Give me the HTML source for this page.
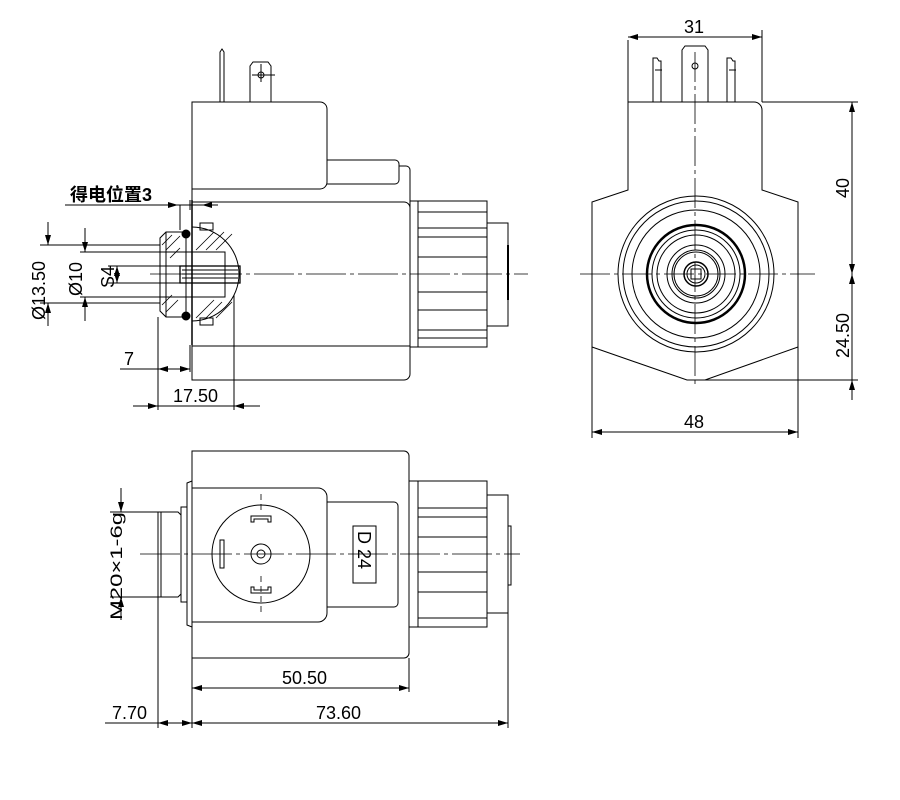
<!DOCTYPE html>
<html><head><meta charset="utf-8"><style>html,body{margin:0;padding:0;background:#fff}svg{display:block}</style></head><body>
<svg width="900" height="800" viewBox="0 0 900 800" xmlns="http://www.w3.org/2000/svg" font-family="Liberation Sans, Noto Sans CJK SC, sans-serif" font-size="18" fill="none" stroke="#000" stroke-width="1">
<defs>
<marker id="a" viewBox="0 0 10 6" refX="10" refY="3" markerWidth="10" markerHeight="6" orient="auto-start-reverse" markerUnits="userSpaceOnUse"><path d="M0,0L10,3L0,6z" fill="#000" stroke="none"/></marker>
</defs>
<!-- ============ TOP LEFT VIEW ============ -->
<path d="M220,102V52l2,-3 2,3V102"/>
<path d="M250,102V66l3,-4h15l3,4V102"/>
<circle cx="261" cy="75" r="3"/><path d="M261,64V82M252,75H275"/>
<path d="M192,202V102H320a7,7 0 0 1 7,7V182a7,7 0 0 1 -7,7H192"/>
<path d="M327,160H395a4,4 0 0 1 4,4V180a4,4 0 0 1 -4,4H327"/>
<path d="M399,166H406a4,4 0 0 1 4,4V202"/>
<path d="M192,202H404a6,6 0 0 1 6,6V374a6,6 0 0 1 -6,6H192Z"/>
<path d="M192,346H410"/>
<rect x="410" y="201" width="77" height="146"/>
<path d="M418,201V347M418,212H487M418,228H487M418,237H487M418,257H487M418,292H487M418,310H487M418,330H487M418,338H487"/>
<rect x="487" y="223" width="21" height="103"/>
<path d="M508,245V300" stroke-width="2"/>
<path d="M192,200V345" stroke-width="1.5"/>
<path d="M192,227A47,47 0 0 1 192,321" />
<path d="M166,232H186V317H166L160,311V238Z"/>
<path d="M166,232V317M180,252H225V297H180"/>
<rect x="180" y="266" width="60" height="17" stroke-width="1.3"/>
<path d="M182,270H238M182,274H238M182,278H238"/>
<circle cx="186" cy="234" r="4" fill="#000"/><circle cx="186" cy="316" r="4" fill="#000"/>
<rect x="200" y="223" width="13" height="7"/><rect x="200" y="318" width="13" height="7"/>
<path d="M162,245L172,235M166,250L180,236M170,258L180,248M162,305L172,295M166,312L178,300M196,250L214,232M206,250L224,232M216,250L232,234M196,318L214,300M206,318L222,302M216,318L232,302" stroke-width="0.8"/>
<path d="M150,274H528" stroke-dasharray="40,4,4,4" stroke-width="0.8"/>
<path d="M65,205H218"/><path d="M168,205H178" marker-end="url(#a)"/><path d="M214,205H202" marker-end="url(#a)"/><path d="M180,205V230M190,200V210"/>
<text x="70" y="201" fill="#000" stroke="none" font-size="18" font-weight="bold">得电位置3</text>
<path d="M40,245H160M40,303H160M80,252H180M80,297H180M108,266H180M108,283H180"/>
<path d="M48,222V245" marker-end="url(#a)"/><path d="M48,326V303" marker-end="url(#a)"/>
<path d="M85,228V252" marker-end="url(#a)"/><path d="M85,321V297" marker-end="url(#a)"/>
<path d="M117,266V283" marker-start="url(#a)" marker-end="url(#a)"/>
<text transform="translate(45,320) rotate(-90)" fill="#000" stroke="none">Ø13.50</text>
<text transform="translate(82,296) rotate(-90)" fill="#000" stroke="none">Ø10</text>
<text transform="translate(114,288) rotate(-90)" fill="#000" stroke="none">S4</text>
<path d="M158,317V410M234,295V410M190,345V372"/>
<path d="M120,369H190"/><path d="M168,369H158" marker-end="url(#a)"/><path d="M180,369H190" marker-end="url(#a)"/>
<text x="124" y="365" fill="#000" stroke="none">7</text>
<path d="M133,406H260"/><path d="M140,406H158" marker-end="url(#a)"/><path d="M252,406H234" marker-end="url(#a)"/>
<text x="173" y="402" fill="#000" stroke="none">17.50</text>
<!-- ============ TOP RIGHT VIEW ============ -->
<path d="M653,102V58h4l2,3h2V102M655,70h7"/>
<path d="M727,102V58h4l2,3h2V102M729,70h7"/>
<path d="M682,102V50l3,-4h20l3,4V102"/><circle cx="695" cy="66" r="3"/>
<path d="M628,102H754a8,8 0 0 1 8,8V190L798,202V347L705,380H687L592,347V202L628,190Z"/>
<path d="M628,40V102M762,30V102M762,102H858M700,380H858"/>
<path d="M628,37H762" marker-start="url(#a)" marker-end="url(#a)"/>
<text x="684" y="33" fill="#000" stroke="none">31</text>
<path d="M852,102V274" marker-start="url(#a)" marker-end="url(#a)"/>
<path d="M852,274V380" marker-start="url(#a)"/><path d="M852,400V380" marker-end="url(#a)"/>
<text transform="translate(849,198) rotate(-90)" fill="#000" stroke="none">40</text>
<text transform="translate(849,358) rotate(-90)" fill="#000" stroke="none">24.50</text>
<path d="M592,347V438M798,347V438"/>
<path d="M592,432H798" marker-start="url(#a)" marker-end="url(#a)"/>
<text x="684" y="428" fill="#000" stroke="none">48</text>
<g>
<circle cx="696" cy="274" r="78"/><circle cx="696" cy="274" r="73"/><circle cx="696" cy="274" r="64"/>
<circle cx="696" cy="274" r="49" stroke-width="2.5"/><circle cx="696" cy="274" r="44"/><circle cx="696" cy="274" r="39"/>
<circle cx="696" cy="274" r="29"/><circle cx="696" cy="274" r="24"/><circle cx="696" cy="274" r="22"/>
<circle cx="696" cy="274" r="12" stroke-width="1.5"/><circle cx="696" cy="274" r="9"/><rect x="691" y="269" width="10" height="10"/>
</g>
<path d="M580,274H815" stroke-dasharray="30,4,4,4" stroke-width="0.8"/>
<path d="M695,52V388" stroke-dasharray="30,4,4,4" stroke-width="0.8"/>
<!-- ============ BOTTOM VIEW ============ -->
<path d="M192,451H404a5,5 0 0 1 5,5V653a5,5 0 0 1 -5,5H192Z"/>
<path d="M192,481V627L187,625V483Z"/>
<path d="M192,488H318a9,9 0 0 1 9,9V613a9,9 0 0 1 -9,9H192"/>
<path d="M327,502H394a4,4 0 0 1 4,4V603a4,4 0 0 1 -4,4H327"/>
<rect x="353" y="526" width="23" height="57"/>
<text transform="translate(358,531) rotate(90)" fill="#000" stroke="none" font-size="18">D 24</text>
<circle cx="261" cy="554" r="49"/><circle cx="261" cy="554" r="10"/><circle cx="261" cy="554" r="4"/>
<rect x="220" y="540" width="4" height="28"/>
<path d="M251,522v-6h20v6h-3v-3h-14v3z"/><path d="M251,587v6h20v-6h-3v3h-14v-3z"/>
<path d="M261,494V510M261,576V614" stroke-dasharray="6,4" stroke-width="0.8"/>
<rect x="409" y="481" width="9" height="146"/>
<rect x="418" y="481" width="69" height="146"/>
<path d="M418,508H487M418,517H487M418,537H487M418,572H487M418,592H487M418,618H487"/>
<rect x="487" y="495" width="21" height="118"/><rect x="508" y="526" width="3" height="59"/>
<path d="M158,512H178L181,515V594L178,597H158L158,512Z"/><path d="M161,512V597"/>
<path d="M181,507H187V602H181Z"/>
<path d="M140,554H520" stroke-dasharray="40,4,4,4" stroke-width="0.8"/>
<path d="M110,512H158M110,597H158"/>
<path d="M121,488V512" marker-end="url(#a)"/><path d="M121,620V597" marker-end="url(#a)"/>
<text transform="translate(122,620) rotate(-90)" fill="#000" stroke="none" font-size="17" textLength="108" lengthAdjust="spacingAndGlyphs">M20×1-6g</text>
<path d="M158,597V728M192,658V728M409,658V692M508,613V728"/>
<path d="M192,688H409" marker-start="url(#a)" marker-end="url(#a)"/>
<text x="282" y="684" fill="#000" stroke="none">50.50</text>
<path d="M105,723H192"/><path d="M172,723H158" marker-end="url(#a)"/><path d="M180,723H192" marker-end="url(#a)"/>
<path d="M192,723H508" marker-start="url(#a)" marker-end="url(#a)"/>
<text x="112" y="719" fill="#000" stroke="none">7.70</text>
<text x="316" y="719" fill="#000" stroke="none">73.60</text>
</svg>
</body></html>
